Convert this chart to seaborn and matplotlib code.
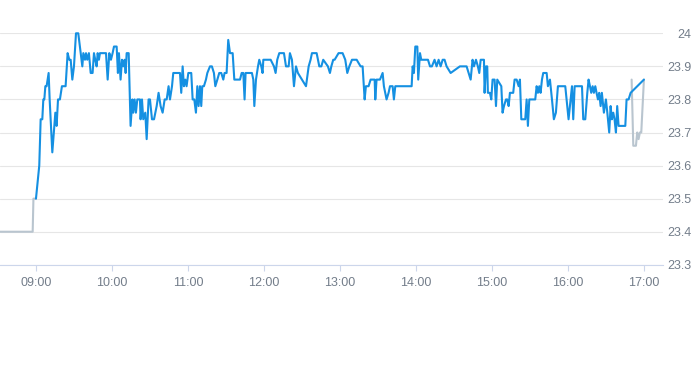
import matplotlib
matplotlib.use("Agg")
import matplotlib.pyplot as plt
import matplotlib.dates as mdates
import numpy as np
import pandas as pd
import seaborn as sns

# ---- data (minutes after 09:00, price) ----
pre_minutes = [-60.0, -2.6, -2.0, 0.0]
pre_prices = [23.40, 23.40, 23.50, 23.50]

morning_minutes = [0.0, 2.6, 3.7, 5.0, 5.8, 6.6, 7.4, 8.4, 10.0, 10.8,
                   12.9, 14.5, 15.3, 16.3, 17.4, 18.9, 20.5, 23.4, 25.0, 26.3,
                   27.4, 28.7, 30.0, 31.6, 33.4, 34.7, 36.6, 37.4, 38.7, 39.5,
                   40.5, 41.8, 43.2, 44.7, 45.8, 46.8, 47.9, 48.7, 49.7, 50.5,
                   55.3, 56.6, 57.9, 59.2, 60.5, 61.6, 63.7, 64.7, 65.5, 66.8,
                   67.9, 68.9, 70.0, 70.8, 71.6, 73.2, 74.7, 76.1, 76.8, 77.9,
                   78.9, 80.0, 82.1, 82.6, 83.7, 84.7, 86.3, 87.4, 88.9, 90.0,
                   91.6, 93.2, 95.3, 96.8, 98.4, 100.0, 101.6, 103.2, 104.7, 105.8,
                   107.4, 108.4, 109.7, 113.7, 114.7, 115.8, 116.8, 117.9, 118.9, 120.3,
                   122.6, 123.7, 125.0, 126.3, 127.4, 128.4, 129.5, 130.5, 131.3, 132.6,
                   134.2, 135.3, 137.4, 138.9, 140.5, 141.6, 143.2, 144.7, 146.3, 147.9,
                   148.9, 150.5, 151.8, 153.2, 155.3, 156.6]
morning_prices = [23.50, 23.60, 23.74, 23.74, 23.80, 23.80, 23.84, 23.84, 23.88, 23.80,
                  23.64, 23.72, 23.76, 23.72, 23.80, 23.80, 23.84, 23.84, 23.94, 23.92,
                  23.92, 23.86, 23.90, 24.00, 24.00, 23.96, 23.90, 23.94, 23.92, 23.94,
                  23.92, 23.94, 23.88, 23.88, 23.94, 23.92, 23.90, 23.94, 23.92, 23.94,
                  23.94, 23.86, 23.94, 23.92, 23.94, 23.96, 23.96, 23.88, 23.94, 23.86,
                  23.92, 23.90, 23.92, 23.88, 23.94, 23.94, 23.72, 23.80, 23.76, 23.80,
                  23.76, 23.80, 23.80, 23.74, 23.80, 23.74, 23.76, 23.68, 23.80, 23.80,
                  23.74, 23.74, 23.78, 23.82, 23.78, 23.76, 23.80, 23.80, 23.84, 23.80,
                  23.84, 23.88, 23.88, 23.88, 23.82, 23.90, 23.84, 23.86, 23.84, 23.88,
                  23.88, 23.80, 23.80, 23.76, 23.84, 23.78, 23.84, 23.78, 23.84, 23.84,
                  23.86, 23.88, 23.90, 23.90, 23.88, 23.84, 23.86, 23.88, 23.88, 23.86,
                  23.88, 23.88, 23.98, 23.94, 23.94, 23.86]

midday_minutes = [161.1, 162.4, 163.7, 164.7, 165.5, 170.5, 171.6, 172.4, 173.7, 175.3,
                  176.3, 177.9, 178.9, 179.5, 185.3, 187.9, 189.2, 190.5, 192.1, 195.8,
                  197.4, 199.5, 200.5, 202.1, 203.7, 205.3, 206.8, 210.0, 213.2, 215.3,
                  216.8, 217.9, 221.6, 223.7, 225.3, 226.8, 230.5, 232.1, 233.2, 234.7,
                  235.8, 238.9, 242.1, 244.2, 245.8, 247.4, 249.5, 253.2, 256.3, 257.9,
                  259.5, 260.5, 262.6, 264.2, 267.4, 267.9, 268.9, 271.6, 273.7, 274.7,
                  276.8, 278.4, 279.5, 281.6, 282.6, 283.7, 296.6, 297.4, 298.4, 299.5,
                  301.1, 301.8, 303.2, 304.2, 309.5, 311.1, 312.6, 314.7, 316.3, 317.9,
                  319.5, 321.1, 322.6, 324.2, 327.4, 331.1, 334.7, 340.0]
midday_prices = [23.86, 23.88, 23.88, 23.80, 23.88, 23.88, 23.86, 23.78, 23.86, 23.90,
                 23.92, 23.90, 23.88, 23.92, 23.92, 23.90, 23.88, 23.92, 23.94, 23.94,
                 23.90, 23.90, 23.94, 23.92, 23.84, 23.90, 23.88, 23.86, 23.84, 23.90,
                 23.92, 23.94, 23.94, 23.90, 23.90, 23.92, 23.90, 23.88, 23.90, 23.92,
                 23.92, 23.94, 23.94, 23.92, 23.88, 23.90, 23.92, 23.92, 23.90, 23.90,
                 23.80, 23.84, 23.84, 23.86, 23.86, 23.80, 23.86, 23.86, 23.88, 23.84,
                 23.80, 23.82, 23.84, 23.84, 23.80, 23.84, 23.84, 23.90, 23.88, 23.96,
                 23.96, 23.86, 23.94, 23.92, 23.92, 23.90, 23.90, 23.92, 23.90, 23.92,
                 23.90, 23.92, 23.92, 23.90, 23.88, 23.89, 23.90, 23.90]

afternoon_minutes = [343.2, 344.7, 345.8, 347.4, 348.9, 350.0, 351.1, 353.7, 354.2, 355.3,
                     356.3, 356.8, 358.4, 359.5, 360.5, 362.1, 363.2, 364.2, 365.8, 367.4,
                     368.4, 369.5, 371.1, 372.1, 373.2, 374.2, 376.8, 377.9, 379.5, 381.1,
                     382.1, 383.2, 386.3, 387.4, 388.4, 389.5, 394.2, 395.3, 396.3, 397.4,
                     398.4, 399.5, 400.5, 403.2, 404.2, 405.8, 407.4, 408.9, 410.5, 412.1,
                     417.9, 420.5, 422.1, 423.2, 424.2, 425.3, 431.1, 432.1, 433.7, 435.3,
                     436.3, 437.4, 438.4, 439.5, 440.5, 441.6, 442.6, 443.7, 444.7, 445.8,
                     446.8, 448.4, 450.0, 451.1, 452.6, 453.7, 454.7, 455.8, 456.8, 457.9,
                     458.9, 460.0, 461.6, 465.3, 466.3, 467.9, 469.5, 480.0]
afternoon_prices = [23.86, 23.92, 23.90, 23.92, 23.90, 23.88, 23.92, 23.92, 23.82, 23.90,
                    23.90, 23.82, 23.82, 23.80, 23.86, 23.86, 23.78, 23.86, 23.85, 23.84,
                    23.76, 23.78, 23.80, 23.80, 23.78, 23.82, 23.82, 23.86, 23.86, 23.84,
                    23.86, 23.74, 23.74, 23.80, 23.72, 23.80, 23.80, 23.84, 23.82, 23.84,
                    23.82, 23.86, 23.88, 23.88, 23.84, 23.86, 23.80, 23.74, 23.76, 23.84,
                    23.84, 23.74, 23.80, 23.84, 23.74, 23.84, 23.84, 23.74, 23.74, 23.82,
                    23.86, 23.84, 23.82, 23.84, 23.82, 23.84, 23.82, 23.80, 23.82, 23.78,
                    23.82, 23.76, 23.80, 23.76, 23.70, 23.78, 23.74, 23.76, 23.74, 23.70,
                    23.78, 23.72, 23.72, 23.72, 23.80, 23.80, 23.82, 23.86]

post_minutes = [470.3, 471.6, 473.7, 474.7, 475.8, 476.8, 477.9, 480.0]
post_prices = [23.86, 23.66, 23.66, 23.70, 23.68, 23.70, 23.70, 23.86]

y_ticks = [23.3, 23.4, 23.5, 23.6, 23.7, 23.8, 23.9, 24.0]
y_tick_labels = ["23.3", "23.4", "23.5", "23.6", "23.7", "23.8", "23.9", "24"]
x_tick_hours = [9, 10, 11, 12, 13, 14, 15, 16, 17]
x_tick_labels = ["09:00", "10:00", "11:00", "12:00", "13:00", "14:00", "15:00", "16:00", "17:00"]

BLUE = "#1590e2"
GREY = "#b9c5cf"
GRID = "#e6e6e6"
AXIS = "#ccd6eb"
LABEL = "#737d8a"

base = pd.Timestamp("2024-01-02 09:00")


def frame(mins, prices):
    return pd.DataFrame({"time": base + pd.to_timedelta(mins, unit="m"),
                         "price": prices})


pre = frame(pre_minutes, pre_prices)
session = frame(morning_minutes + midday_minutes + afternoon_minutes,
                morning_prices + midday_prices + afternoon_prices)
post = frame(post_minutes, post_prices)

sns.set_theme(style="white")
plt.rcParams['font.family'] = ['Liberation Sans Narrow', 'Liberation Sans', 'DejaVu Sans']

W, H = 693, 365
fig = plt.figure(figsize=(W / 100, H / 100), dpi=100)
ax_left, ax_right = 0.0, 663.3
ax_top, ax_bottom = 33.3, 264.8
ax = fig.add_axes([ax_left / W, 1 - ax_bottom / H, (ax_right - ax_left) / W,
                   (ax_bottom - ax_top) / H])

lw = 1.5
sns.lineplot(data=pre, x="time", y="price", color=GREY, linewidth=lw, ax=ax,
             estimator=None, sort=False)
sns.lineplot(data=post, x="time", y="price", color=GREY, linewidth=lw, ax=ax,
             estimator=None, sort=False)
sns.lineplot(data=session, x="time", y="price", color=BLUE, linewidth=lw, ax=ax,
             estimator=None, sort=False)
for ln in ax.get_lines():
    ln.set_clip_on(False)
    ln.set_solid_joinstyle("round")

xmin = mdates.date2num((base + pd.Timedelta(minutes=-28.4)).to_pydatetime())
xmax = mdates.date2num((base + pd.Timedelta(minutes=495.3)).to_pydatetime())
ax.set_xlim(xmin, xmax)
ax.set_ylim(23.3, 24.0)

xt = [mdates.date2num((base.normalize() + pd.Timedelta(hours=h)).to_pydatetime())
      for h in x_tick_hours]
ax.set_xticks(xt)
ax.set_xticklabels(x_tick_labels)
ax.set_yticks(y_ticks)
ax.set_yticklabels(y_tick_labels)

ax.set_xlabel("")
ax.set_ylabel("")

ax.grid(True, axis="y", color=GRID, linewidth=0.8)
ax.grid(False, axis="x")
ax.set_axisbelow(True)

for s in ["top", "left", "right"]:
    ax.spines[s].set_visible(False)
ax.spines["bottom"].set_color(AXIS)
ax.spines["bottom"].set_linewidth(0.8)

ax.tick_params(axis="x", direction="out", length=4, width=0.8, color=AXIS,
               labelcolor=LABEL, labelsize=9, pad=5, bottom=True)
ax.yaxis.tick_right()
ax.tick_params(axis="y", length=0, labelcolor=LABEL, labelsize=9, pad=20.5)
for lab in ax.get_yticklabels():
    lab.set_horizontalalignment("right")

fig.savefig("out.png", dpi=100, facecolor="white")
